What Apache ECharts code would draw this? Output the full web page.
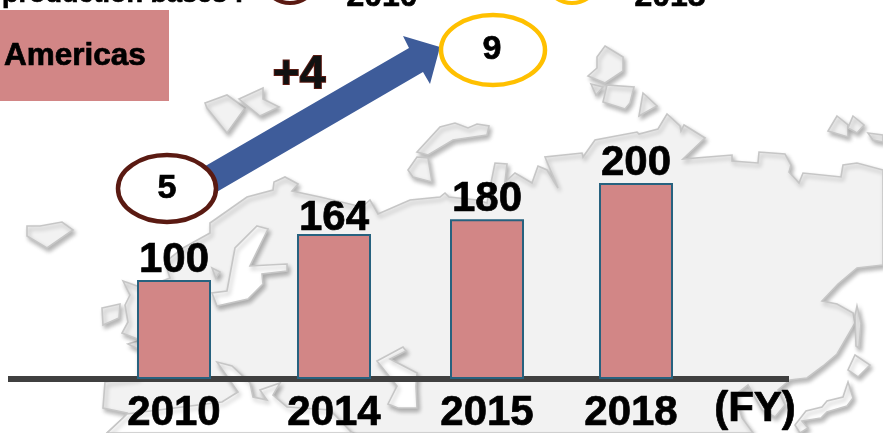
<!DOCTYPE html>
<html>
<head>
<meta charset="utf-8">
<style>html,body{margin:0;padding:0;background:#fff}#c{width:883px;height:433px}</style>
<script src="https://cdn.jsdelivr.net/npm/echarts@6/dist/echarts.min.js"></script>
</head>
<body>
<div id="c"></div>
<script>
// Fiscal years and the index printed above each bar
const categories = ['2010', '2014', '2015', '2018'];
const printedValues = [100, 164, 180, 200];
// Bar heights as drawn in the picture (the source is not to scale with its printed labels)
const drawnHeights = [101, 148, 163, 200];
// Horizontal position of each year on the (unevenly spaced) axis
const barSlots = [0, 16, 31.3, 46.2];
const labelSlots = [0, 16, 31.3, 45.7];
const regionName = 'Americas';
const basesFrom = 5;
const basesTo = 9;
const basesChange = '+4';

const BLACK = '#000';
const FONT = '"Liberation Sans", Arial, sans-serif';
const landStyle = {fill: '#f2f2f2', stroke: '#c6c6c6', lineWidth: 1.6, lineJoin: 'miter',
  shadowBlur: 4, shadowColor: 'rgba(0,0,0,0.28)', shadowOffsetX: 2, shadowOffsetY: 3};
const seaStyle = Object.assign({}, landStyle, {fill: '#fff'});

// Background map, purely decorative
const land = [
  [[183,248],[210,233],[210,223],[220,216],[247,197],[273,190],[274,182],[285,177],[298,184],[292,191],[320,197],[362,207],[370,200],[378,214],[410,200],[440,197],[445,193],[449,197],[477,200],[487,203],[495,163],[507,164],[505,182],[515,173],[532,183],[538,166],[547,170],[558,188],[545,157],[582,153],[583,157],[595,140],[637,132],[639,134],[658,129],[667,114],[680,126],[681,131],[684,125],[705,138],[683,159],[732,155],[732,161],[758,163],[759,152],[785,154],[791,165],[789,172],[799,183],[803,173],[841,177],[843,165],[857,163],[883,170],[883,265],[857,268],[838,284],[822,301],[837,304],[853,313],[855,323],[837,354],[823,366],[807,378],[790,380],[778,390],[785,405],[775,417],[762,410],[748,385],[735,395],[742,418],[753,433],[107,433],[123,418],[127,413],[103,408],[105,382],[138,378],[138,349],[128,344],[138,341],[138,290],[170,278],[165,262]],
  [[205,103],[227,95],[245,108],[227,133],[207,108]],
  [[239,99],[263,88],[263,99],[279,107],[260,116]],
  [[417,152],[440,127],[455,123],[468,128],[477,124],[489,126],[487,135],[453,140],[428,155]],
  [[408,170],[417,157],[428,158],[432,182],[413,177]],
  [[605,46],[623,57],[623,71],[605,83],[588,76],[597,68],[597,57]],
  [[591,84],[603,87],[596,95]],
  [[607,85],[634,87],[630,103],[625,109],[603,102]],
  [[643,93],[657,106],[639,116]],
  [[837,116],[848,125],[848,137],[828,131]],
  [[853,116],[864,125],[857,133],[848,128]],
  [[868,133],[883,135],[883,142],[873,140]],
  [[27,226],[40,226],[62,222],[73,230],[47,248],[27,236]],
  [[102,308],[120,304],[119,318],[103,325]],
  [[123,281],[140,287],[140,340],[122,333],[128,322],[125,305],[130,295]],
  [[212,268],[216,278],[220,272]],
  [[855,316],[857,306],[861,323],[859,348],[856,346]]
];
const seas = [
  [[257,226],[268,229],[250,266],[287,264],[287,271],[262,274],[263,284],[248,299],[217,306],[212,293],[227,291],[235,248]],
  [[377,361],[403,347],[406,351],[390,359],[417,373],[416,386],[417,408],[398,408],[388,404],[397,386]],
  [[127,414],[222,402],[238,392],[217,362],[232,366],[250,383],[253,397],[267,400],[260,390],[280,383],[273,395],[287,407],[330,410],[352,433],[107,433],[123,418]],
  [[855,355],[870,365],[858,377],[848,370]],
  [[848,382],[853,398],[847,406],[827,412],[821,418],[802,421],[808,428],[800,433],[795,425],[806,411],[822,407],[827,401],[843,397]]
];
const mapGraphics = land.map(p => ({type:'polygon', z:0, silent:true, shape:{points:p}, style:landStyle}))
  .concat(seas.map(p => ({type:'polygon', z:0, silent:true, shape:{points:p}, style:seaStyle})));

const txt = (x, y, text, size, extra) => ({type:'text', z:12, x, y, silent:true,
  style:Object.assign({text, fill:BLACK, stroke:BLACK, lineWidth:0.7, font:'bold '+size+'px '+FONT, textAlign:'center', textVerticalAlign:'middle'}, extra||{})});

const overlay = [
  {type:'rect', z:5, silent:true, shape:{x:0,y:10,width:169,height:91}, style:{fill:'#d28686'}},
  txt(4, 56, regionName, 31.5, {textAlign:'left'}),
  {type:'polygon', z:6, silent:true, shape:{points:[[195,172],[409,48],[403,36],[440,47],[430,84],[423,72],[208,197]]}, style:{fill:'#3e5c9a'}},
  {type:'ellipse', z:8, silent:true, shape:{cx:167,cy:188.5,rx:49,ry:33.5}, style:{fill:'#fff',stroke:'#5a1a12',lineWidth:4.5}},
  {type:'ellipse', z:8, silent:true, shape:{cx:493,cy:50,rx:52,ry:35}, style:{fill:'#fff',stroke:'#ffc000',lineWidth:4.5}},
  txt(167, 189, String(basesFrom), 34),
  txt(492, 50, String(basesTo), 34),
  txt(299, 75, basesChange, 46, {fill:'#111', stroke:'#5a1a12', lineWidth:2}),
  txt(755, 409, '(FY)', 42),
  // Legend strip cropped by the top edge of the picture
  txt(2, -5, 'production bases :', 27, {textAlign:'left'}),
  {type:'ellipse', z:8, silent:true, shape:{cx:290,cy:-30,rx:30,ry:33}, style:{fill:'#fff',stroke:'#5a1a12',lineWidth:4}},
  {type:'ellipse', z:8, silent:true, shape:{cx:572,cy:-30,rx:30,ry:33}, style:{fill:'#fff',stroke:'#ffc000',lineWidth:4}},
  txt(382, -3, categories[0], 32),
  txt(670, -3, categories[2], 32)
];

const chart = echarts.init(document.getElementById('c'), null, {renderer:'canvas'});
chart.setOption({
  animation:false,
  backgroundColor:'#fff',
  graphic:{elements:mapGraphics.concat(overlay)},
  grid:{left:8, right:94, top:183, bottom:54, outerBoundsMode:'none'},
  xAxis:{
    type:'value', min:-16.6, max:61.5, splitLine:{show:false},
    axisLine:{show:true, onZero:false, lineStyle:{color:'#404040', width:6, cap:'butt'}},
    axisTick:{show:false},
    axisLabel:{
      customValues:labelSlots, margin:13, color:BLACK, fontWeight:'bold', fontSize:42, fontFamily:FONT,
      textBorderColor:BLACK, textBorderWidth:0.7,
      formatter:v => categories[labelSlots.indexOf(v)] || ''
    }
  },
  yAxis:{type:'value', min:0, max:200, show:false, splitLine:{show:false}},
  series:[{
    type:'bar', barWidth:74, z:3,
    data:barSlots.map((s,i) => {
      const item = {value:[s, drawnHeights[i]]};
      if (i === 1) item.label = {offset:[0, 4]};
      return item;
    }),
    itemStyle:{color:'#d28686', borderColor:'#27627f', borderWidth:2},
    label:{
      show:true, position:'top', distance:-1, color:BLACK, fontWeight:'bold', fontSize:42, fontFamily:FONT,
      textBorderColor:BLACK, textBorderWidth:0.7,
      formatter:p => String(printedValues[p.dataIndex])
    }
  }]
});
</script>
</body>
</html>
